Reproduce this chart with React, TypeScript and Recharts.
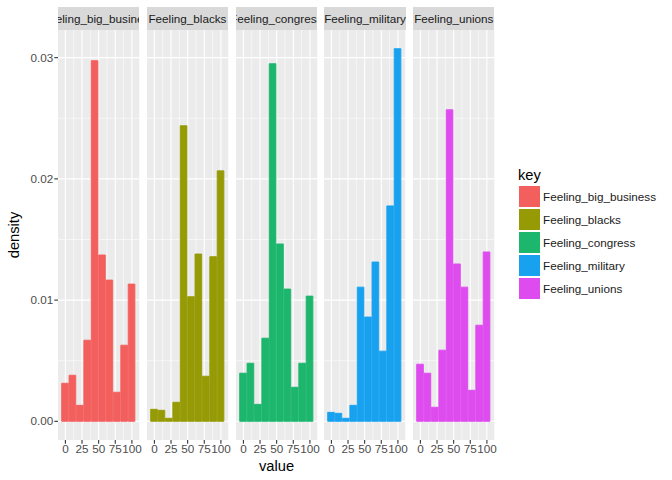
import React from 'react';
import { BarChart, Bar, XAxis, YAxis, CartesianGrid } from 'recharts';

// histogram bin centres (10 bins over 0..100)
const binCenters = [0, 11.11, 22.22, 33.33, 44.44, 55.56, 66.67, 77.78, 88.89, 100];

const seriesNames = ['Feeling_big_business', 'Feeling_blacks', 'Feeling_congress', 'Feeling_military', 'Feeling_unions'];
const seriesColors = ['#F35F5D', '#959A05', '#1CB66C', '#17A1EF', '#DE4BEE'];

const bigBusiness = [0.00314, 0.0038, 0.00132, 0.00669, 0.02975, 0.01372, 0.01165, 0.0024, 0.00628, 0.01132];
const blacks = [0.00099, 0.00091, 0.00025, 0.00157, 0.02438, 0.01028, 0.0138, 0.00372, 0.01358, 0.02066];
const congress = [0.00397, 0.00479, 0.0014, 0.00686, 0.0295, 0.01463, 0.01091, 0.00281, 0.00479, 0.01033];
const military = [0.00074, 0.00066, 0.00025, 0.00132, 0.01107, 0.0086, 0.01314, 0.00579, 0.01777, 0.03074];
const unions = [0.00471, 0.00397, 0.00116, 0.00587, 0.0257, 0.01298, 0.01107, 0.00256, 0.00793, 0.01397];

const seriesValues = [bigBusiness, blacks, congress, military, unions];

const xTicks = [0, 25, 50, 75, 100];
const xMinor = [-12.5, 12.5, 37.5, 62.5, 87.5, 112.5];
const yTicks = [0, 0.01, 0.02, 0.03];
const yMinor = [0.005, 0.015, 0.025];
const xDomain = [-11.11, 111.11];
const yDomain = [-0.00154, 0.03228];

const FONT = '"Liberation Sans", Arial, Helvetica, sans-serif';
const PANEL_W = 81.3;
const PANEL_STEP = 88.8;
const FIRST_LEFT = 58;
const Y_AXIS_W = 58;
// full bin width in pixels so neighbouring bars touch
const BAR_W = (PANEL_W * (binCenters[1] - binCenters[0])) / (xDomain[1] - xDomain[0]);

interface PanelProps {
  name: string;
  values: number[];
  color: string;
  index: number;
}

const Panel = ({ name, values, color, index }: PanelProps) => {
  const showY = index === 0;
  const yW = showY ? Y_AXIS_W : 0;
  const left = FIRST_LEFT + index * PANEL_STEP;
  const data = binCenters.map((x, i) => ({ x, density: values[i] }));

  return (
    <div style={{ position: 'absolute', left: left - yW, top: 0 }}>
      <div
        style={{
          position: 'absolute',
          left: yW,
          top: 7,
          width: PANEL_W,
          height: 23,
          background: '#d9d9d9',
          overflow: 'hidden',
          display: 'flex',
          justifyContent: 'center',
          alignItems: 'center',
          fontFamily: FONT,
          fontSize: 11.7,
          color: '#1a1a1a',
        }}
      >
        <span style={{ whiteSpace: 'nowrap' }}>{name}</span>
      </div>
      <BarChart
        width={PANEL_W + yW}
        height={480}
        data={data}
        margin={{ top: 30, right: 0, bottom: 0, left: 0 }}
        barCategoryGap={0}
        barGap={0}
        style={{ overflow: 'visible' }}
      >
        <CartesianGrid
          fill="#ebebeb"
          stroke="#ffffff"
          strokeWidth={0.55}
          horizontalValues={yMinor}
          verticalValues={xMinor}
        />
        <CartesianGrid
          stroke="#ffffff"
          strokeWidth={1.1}
          horizontalValues={yTicks}
          verticalValues={xTicks}
        />
        <XAxis
          dataKey="x"
          type="number"
          domain={xDomain}
          allowDataOverflow
          ticks={xTicks}
          interval={0}
          height={40}
          tickSize={3.7}
          tickMargin={1}
          axisLine={false}
          tickLine={{ stroke: '#333333', strokeWidth: 1.1 }}
          tick={{ fill: '#4d4d4d', fontSize: 11.7, fontFamily: FONT }}
        />
        <YAxis
          hide={!showY}
          width={showY ? Y_AXIS_W : 0}
          type="number"
          domain={yDomain}
          allowDataOverflow
          ticks={yTicks}
          interval={0}
          tickFormatter={(v: number) => v.toFixed(2)}
          tickSize={3.7}
          tickMargin={1}
          axisLine={false}
          tickLine={{ stroke: '#333333', strokeWidth: 1.1 }}
          tick={{ fill: '#4d4d4d', fontSize: 11.7, fontFamily: FONT }}
        />
        <Bar
          dataKey="density"
          fill={color}
          stroke={color}
          strokeWidth={0.9}
          barSize={BAR_W}
          isAnimationActive={false}
        />
      </BarChart>
    </div>
  );
};

const App = () => {
  return (
    <div style={{ position: 'absolute', left: 0, top: 0, width: 672, height: 480, background: '#ffffff', fontFamily: FONT }}>
      <style>{'.recharts-surface { overflow: visible; }'}</style>
      {seriesNames.map((name, i) => (
        <Panel key={name} name={name} values={seriesValues[i]} color={seriesColors[i]} index={i} />
      ))}

      {/* y axis title */}
      <div
        style={{
          position: 'absolute',
          left: 14,
          top: 235,
          transform: 'translate(-50%, -50%) rotate(-90deg)',
          fontSize: 14.7,
          color: '#000',
          whiteSpace: 'nowrap',
        }}
      >
        density
      </div>

      {/* x axis title */}
      <div
        style={{
          position: 'absolute',
          left: 276.5,
          top: 466,
          transform: 'translate(-50%, -50%)',
          fontSize: 14.7,
          color: '#000',
          whiteSpace: 'nowrap',
        }}
      >
        value
      </div>

      {/* legend */}
      <div style={{ position: 'absolute', left: 518, top: 166, fontSize: 14.7, color: '#000', lineHeight: '18px' }}>key</div>
      {seriesNames.map((name, i) => (
        <div key={name} style={{ position: 'absolute', left: 519, top: 186 + i * 23.1, height: 21, display: 'flex', alignItems: 'center' }}>
          <div style={{ width: 21, height: 21, background: seriesColors[i] }} />
          <span style={{ marginLeft: 3, fontSize: 11.7, color: '#1a1a1a', whiteSpace: 'nowrap' }}>{name}</span>
        </div>
      ))}
    </div>
  );
};

export default App;
